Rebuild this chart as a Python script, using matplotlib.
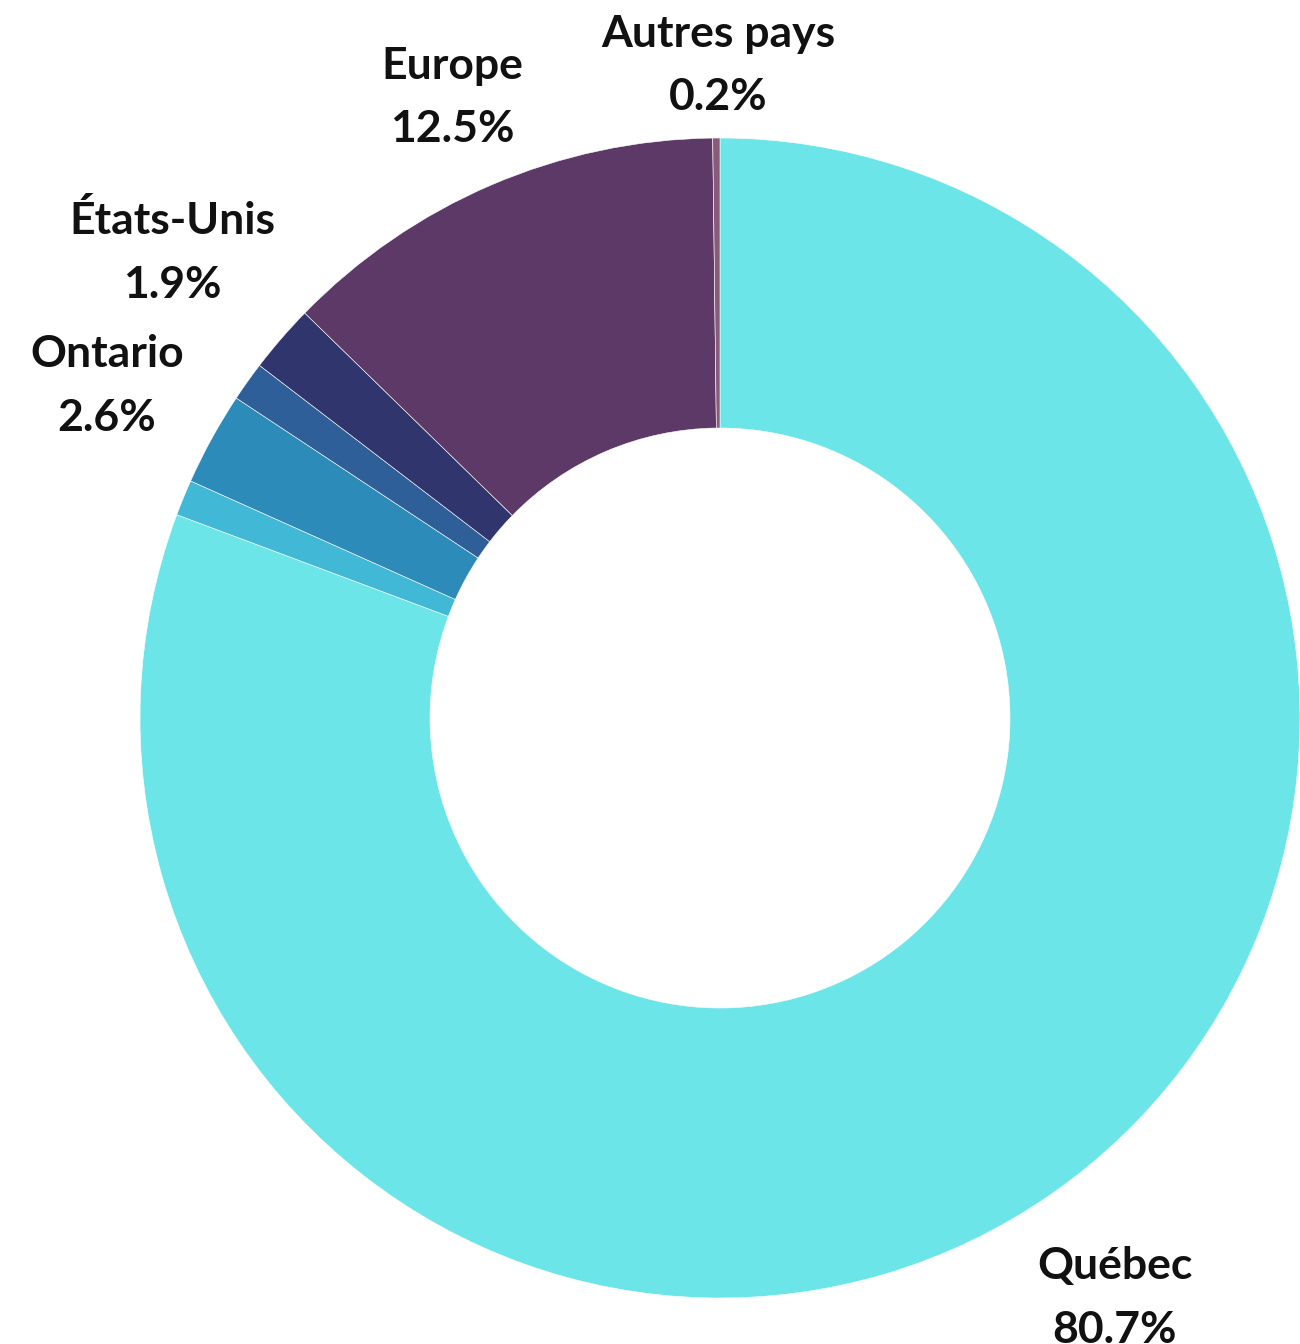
import matplotlib
matplotlib.use("Agg")
import matplotlib.pyplot as plt

plt.rcParams['font.family'] = ['Lato', 'DejaVu Sans']

# slices, clockwise from 12 o'clock
names = ["Québec", "", "Ontario", "", "États-Unis", "Europe", "Autres pays"]
shares = [80.7, 1.0, 2.6, 1.1, 1.9, 12.5, 0.2]
colors = ["#6ce5e8", "#41b8d5", "#2d8bba", "#2f5f98", "#31356e", "#5c3967", "#8b5a7a"]

# label block centres (data units, radius = 1)
label_xy = {
    "Québec": (0.681, -1.0),
    "Ontario": (-1.057, 0.572),
    "États-Unis": (-0.945, 0.802),
    "Europe": (-0.462, 1.07),
    "Autres pays": (-0.003, 1.125),
}

W, H = 1300, 1344
fig = plt.figure(figsize=(W / 100, H / 100), dpi=100)
cx, cy, r = 720, 718, 580
ax = fig.add_axes([(cx - r) / W, (H - cy - r) / H, 2 * r / W, 2 * r / H])

ax.pie(shares, colors=colors, startangle=90, counterclock=False, radius=1,
       wedgeprops=dict(width=0.5, edgecolor="white", linewidth=0.4))
ax.set_xlim(-1, 1)
ax.set_ylim(-1, 1)
ax.set_aspect("equal")
ax.axis("off")

for n, v in zip(names, shares):
    if not n:
        continue
    x, y = label_xy[n]
    ax.text(x, y, f"{n}\n{v}%", ha="center", va="center", fontsize=32,
            fontweight="bold", color="#111111", linespacing=1.72, clip_on=False)

fig.savefig("out.png", dpi=100)
